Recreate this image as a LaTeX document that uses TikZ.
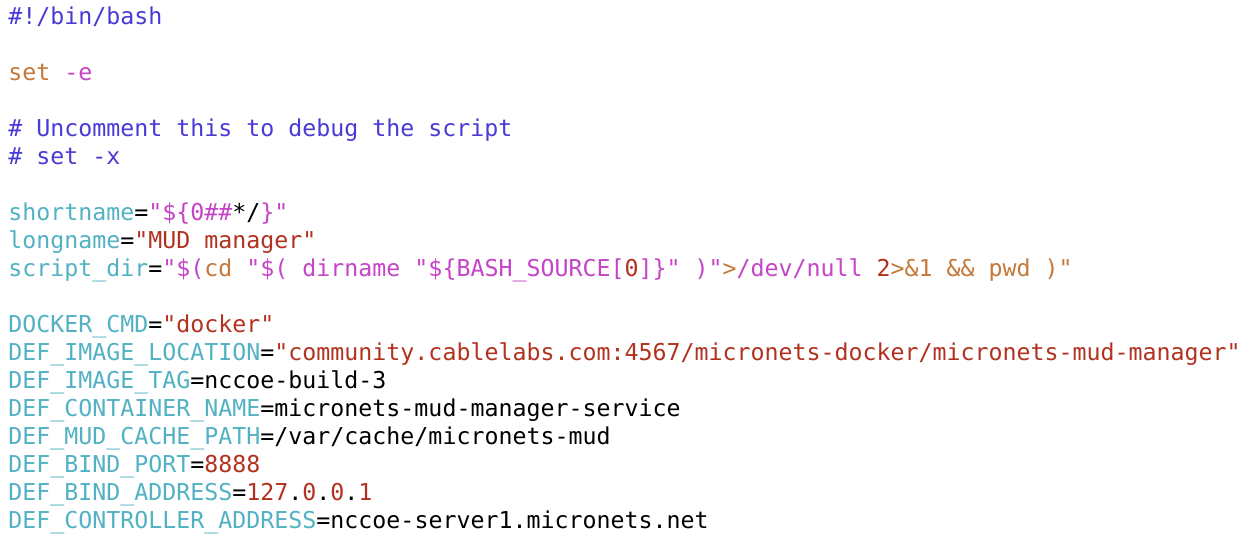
\documentclass[tikz,border=0pt]{standalone}
\usepackage{fontspec}
\setmonofont{DejaVu Sans Mono}
\definecolor{cmt}{HTML}{4A3AD6}
\definecolor{var}{HTML}{52B2C4}
\definecolor{mag}{HTML}{C644C8}
\definecolor{org}{HTML}{C4783A}
\definecolor{str}{HTML}{B3321F}
\newcommand{\cm}[1]{\textcolor{cmt}{#1}}
\newcommand{\vr}[1]{\textcolor{var}{#1}}
\newcommand{\mg}[1]{\textcolor{mag}{#1}}
\newcommand{\og}[1]{\textcolor{org}{#1}}
\newcommand{\sr}[1]{\textcolor{str}{#1}}
\tikzset{
    % one line of code
    codeline/.style={
           anchor=base west,
           inner sep=0pt,
           font=\ttfamily\fontsize{11.63}{14}\selectfont}
}
\begin{document}
\begin{tikzpicture}[x=0.5pt,y=-0.5pt]
  \useasboundingbox[fill=white] (0,0) rectangle (1246,552);
  \node[codeline] (l0) at (8,24) {\cm{\#!/bin/bash}};
  \node[codeline] (l2) at (8,80) {\og{set} \mg{-e}};
  \node[codeline] (l4) at (8,136) {\cm{\# Uncomment this to debug the script}};
  \node[codeline] (l5) at (8,164) {\cm{\# set -x}};
  \node[codeline] (l7) at (8,220) {\vr{shortname}=\mg{"\$\{0\#\#}*/\mg{\}"}};
  \node[codeline] (l8) at (8,248) {\vr{longname}=\sr{"MUD manager"}};
  \node[codeline] (l9) at (8,276) {\vr{script\_dir}=\mg{"\$(}\og{ cd }\mg{"\$( dirname "\$\{BASH\_SOURCE[}\sr{0}\mg{]\}" )"}\og{ >}\mg{/dev/null} \sr{2}\og{>\&1 \&\& pwd )"}};
  \node[codeline] (l11) at (8,332) {\vr{DOCKER\_CMD}=\sr{"docker"}};
  \node[codeline] (l12) at (8,360) {\vr{DEF\_IMAGE\_LOCATION}=\sr{"community.cablelabs.com:4567/micronets-docker/micronets-mud-manager"}};
  \node[codeline] (l13) at (8,388) {\vr{DEF\_IMAGE\_TAG}=nccoe-build-3};
  \node[codeline] (l14) at (8,416) {\vr{DEF\_CONTAINER\_NAME}=micronets-mud-manager-service};
  \node[codeline] (l15) at (8,444) {\vr{DEF\_MUD\_CACHE\_PATH}=/var/cache/micronets-mud};
  \node[codeline] (l16) at (8,472) {\vr{DEF\_BIND\_PORT}=\sr{8888}};
  \node[codeline] (l17) at (8,500) {\vr{DEF\_BIND\_ADDRESS}=\sr{127}.\sr{0}.\sr{0}.\sr{1}};
  \node[codeline] (l18) at (8,528) {\vr{DEF\_CONTROLLER\_ADDRESS}=nccoe-server1.micronets.net};
\end{tikzpicture}
\end{document}
